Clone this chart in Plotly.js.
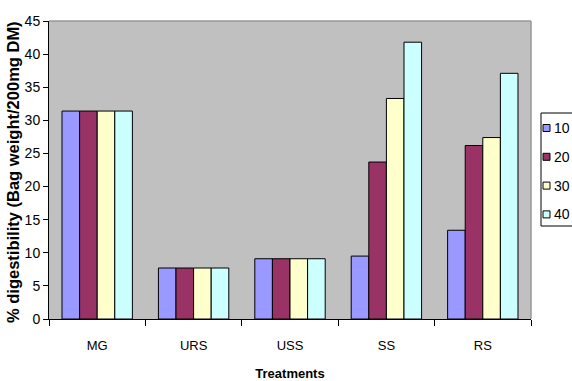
<!DOCTYPE html>
<html>
<head>
<meta charset="utf-8">
<script src="https://cdn.plot.ly/plotly-3.0.1.min.js"></script>
<style>
  html, body { margin: 0; padding: 0; background: #fff; }
  #chart { width: 572px; height: 381px; }
</style>
</head>
<body>
<div id="chart"></div>
<script>
// Treatments along the x axis
const treatments = ['MG', 'URS', 'USS', 'SS', 'RS'];

// Digestibility (%) per level
const level10 = [31.4, 7.7, 9.1, 9.5, 13.4];
const level20 = [31.4, 7.7, 9.1, 23.7, 26.2];
const level30 = [31.4, 7.7, 9.1, 33.3, 27.4];
const level40 = [31.4, 7.7, 9.1, 41.8, 37.1];

const levelNames = ['10', '20', '30', '40'];
const levelValues = [level10, level20, level30, level40];
const levelColors = ['#9999FF', '#993366', '#FFFFCC', '#CCFFFF'];

const sans = 'Liberation Sans, Arial, sans-serif';

const traces = levelNames.map((name, i) => ({
  type: 'bar',
  name: name,
  x: treatments,
  y: levelValues[i],
  showlegend: false,
  marker: { color: levelColors[i], line: { color: '#000000', width: 1 } }
}));

// Plot-area geometry (pixels) used to place the boxed legend and y title
const W = 572, H = 381;
const M = { l: 49, r: 41, t: 21, b: 62 };
const pw = W - M.l - M.r, ph = H - M.t - M.b;
const px = x => (x - M.l) / pw;
const py = y => (H - M.b - y) / ph;

const legendShapes = [
  { type: 'rect', xref: 'paper', yref: 'paper', x0: px(541), x1: px(580), y0: py(226), y1: py(113),
    fillcolor: '#ffffff', line: { color: '#000000', width: 1 }, layer: 'above' }
];
const notes = [];
levelNames.forEach((name, i) => {
  const cy = 128 + i * 28.8;
  legendShapes.push({
    type: 'rect', xref: 'paper', yref: 'paper',
    x0: px(543), x1: px(550), y0: py(cy + 3.5), y1: py(cy - 3.5),
    fillcolor: levelColors[i], line: { color: '#000000', width: 1 }, layer: 'above'
  });
  notes.push({
    xref: 'paper', yref: 'paper', x: px(552), y: py(cy), xanchor: 'left', yanchor: 'middle',
    text: name, showarrow: false, font: { family: sans, size: 14, color: '#000' }
  });
});

// Rotated y-axis title
notes.push({
  xref: 'paper', yref: 'paper', x: px(13), y: py(172), xanchor: 'center', yanchor: 'middle',
  textangle: -90, showarrow: false,
  text: '<b>% digestibility (Bag weight/200mg DM)</b>',
  font: { family: sans, size: 16.5, color: '#000' }
});

const layout = {
  width: W,
  height: H,
  margin: M,
  paper_bgcolor: '#ffffff',
  plot_bgcolor: '#C0C0C0',
  font: { family: sans, size: 12, color: '#000' },
  barmode: 'group',
  bargap: 0.27,
  bargroupgap: 0,
  showlegend: false,
  xaxis: {
    type: 'category',
    tickson: 'boundaries',
    ticks: 'outside',
    ticklen: 6,
    tickcolor: '#000',
    showline: true,
    linecolor: '#000',
    linewidth: 1,
    showgrid: false,
    ticklabelstandoff: 14,
    tickfont: { family: sans, size: 13 },
    title: { text: '<b>Treatments</b>', font: { family: sans, size: 13 }, standoff: 18 }
  },
  yaxis: {
    range: [0, 45],
    dtick: 5,
    ticks: 'outside',
    ticklen: 5,
    tickcolor: '#000',
    showline: true,
    linecolor: '#000',
    linewidth: 1,
    showgrid: false,
    zeroline: false,
    tickfont: { family: sans, size: 14 }
  },
  shapes: [
    // grey frame along the top and right of the plot area
    { type: 'line', xref: 'paper', yref: 'paper', x0: 0, x1: 1, y0: 1, y1: 1, line: { color: '#999999', width: 1.5 } },
    { type: 'line', xref: 'paper', yref: 'paper', x0: 1, x1: 1, y0: 0, y1: 1, line: { color: '#999999', width: 1.5 } }
  ].concat(legendShapes),
  annotations: notes
};

Plotly.newPlot('chart', traces, layout, { displayModeBar: false, staticPlot: true });
</script>
</body>
</html>
